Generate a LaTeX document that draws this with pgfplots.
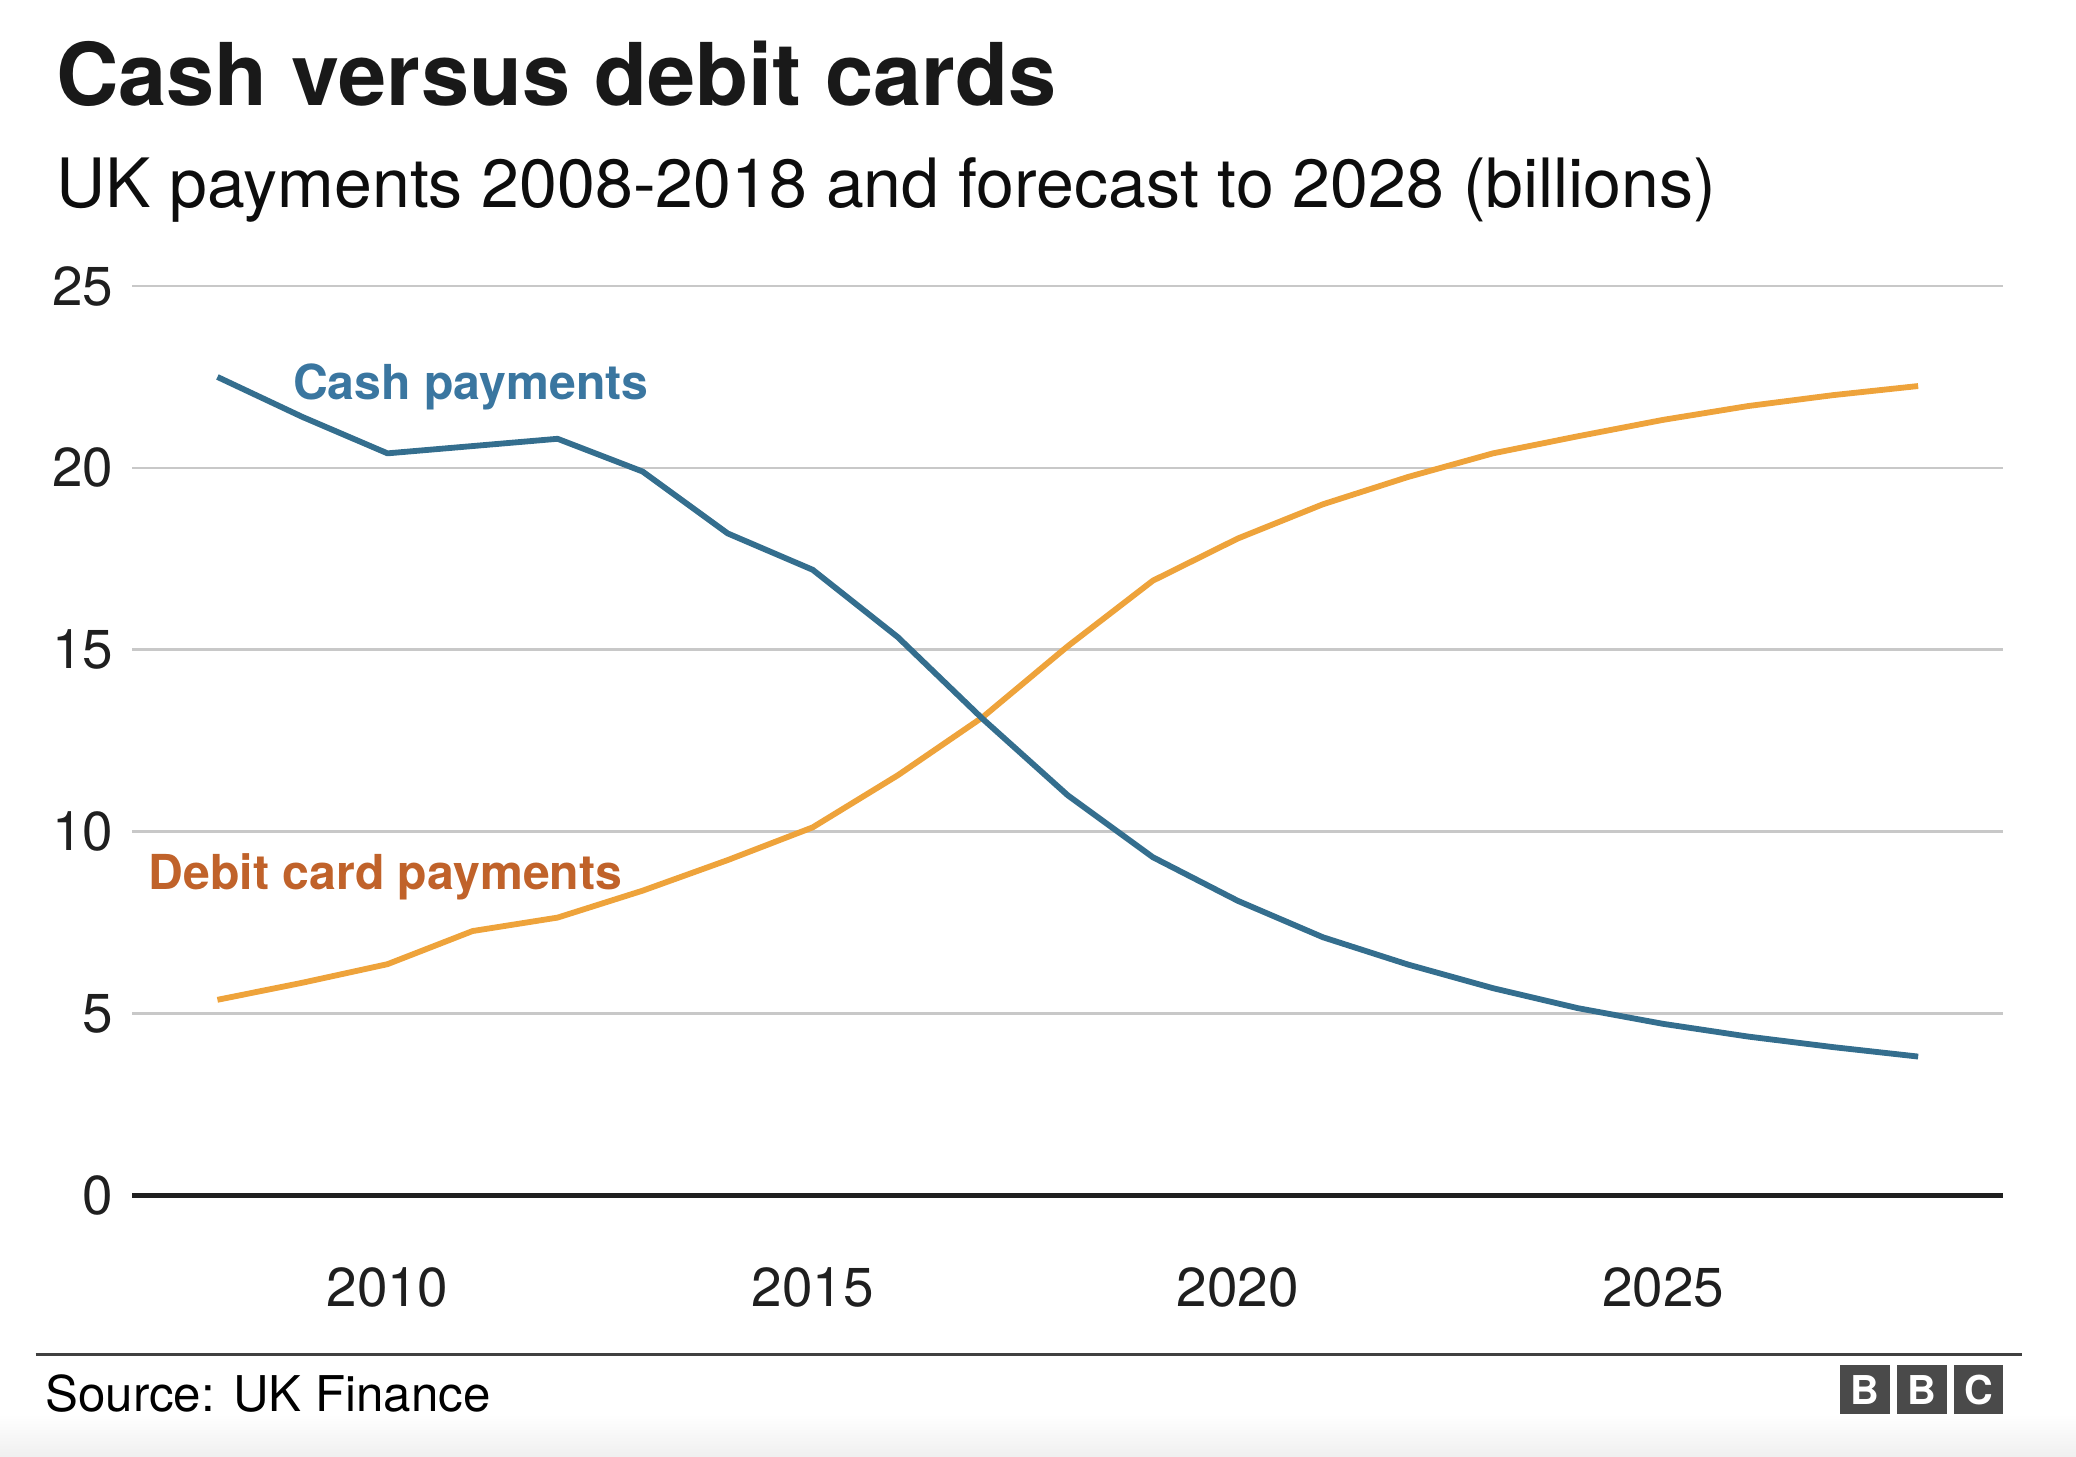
\documentclass[border=0pt]{standalone}
\usepackage{pgfplots}
\pgfplotsset{compat=1.18}
\usepackage{fontspec}
\setmainfont{TeX Gyre Heros}
\definecolor{cashline}{HTML}{346E8E}
\definecolor{cashtext}{HTML}{3A76A0}
\definecolor{debitline}{HTML}{EEA33B}
\definecolor{debittext}{HTML}{C0622A}
\definecolor{gridc}{HTML}{C8C8C8}
\definecolor{bbcgray}{HTML}{4A4A4A}
\begin{document}
\begin{tikzpicture}
\path[use as bounding box] (0pt,0pt) rectangle (784pt,550pt);
\shade[bottom color=black!6, top color=white, draw=none] (0pt,0pt) rectangle (784pt,16pt);
\node[anchor=base west, inner sep=0pt, text=black!90] at (21pt,510pt) {\fontsize{32.7}{38}\selectfont\bfseries Cash versus debit cards};
\node[anchor=base west, inner sep=0pt, text=black!95] at (21pt,471.5pt) {\fontsize{25.7}{30}\selectfont UK payments 2008-2018 and forecast to 2028 (billions)};
\begin{axis}[
  at={(50pt,98.5pt)}, anchor=south west,
  scale only axis, width=706.5pt, height=343.5pt,
  xmin=2007, xmax=2029, ymin=0, ymax=25,
  axis line style={draw=none},
  major tick length=0pt,
  xtick={2010,2015,2020,2025},
  xticklabels={2010,2015,2020,2025},
  ytick={0,5,10,15,20,25},
  ymajorgrids,
  grid style={gridc, line width=1pt},
  /pgf/number format/assume math mode=true,
  ticklabel style={font=\fontsize{20.7}{24}\selectfont, text=black!88},
  yticklabel style={anchor=east, inner sep=0pt, xshift=-7pt},
  xticklabel style={anchor=north, inner sep=0pt, yshift=-27pt},
  clip=false,
]
\draw[black!88, line width=1.75pt] (axis cs:2007,0) -- (axis cs:2029,0);
\addplot[debitline, line width=2.2pt, line join=round, line cap=butt] coordinates {
(2008,5.38) (2009,5.85) (2010,6.36) (2011,7.27) (2012,7.64) (2013,8.38) (2014,9.22)
(2015,10.12) (2016,11.55) (2017,13.15) (2018,15.1) (2019,16.9) (2020,18.06) (2021,19.0)
(2022,19.75) (2023,20.4) (2024,20.87) (2025,21.32) (2026,21.7) (2027,22.0) (2028,22.25)
};
\addplot[cashline, line width=2.2pt, line join=round, line cap=butt] coordinates {
(2008,22.5) (2009,21.4) (2010,20.4) (2011,20.6) (2012,20.8) (2013,19.9) (2014,18.2)
(2015,17.2) (2016,15.35) (2017,13.1) (2018,11.0) (2019,9.3) (2020,8.1) (2021,7.1)
(2022,6.35) (2023,5.7) (2024,5.15) (2025,4.72) (2026,4.37) (2027,4.08) (2028,3.82)
};
\end{axis}
\node[anchor=base west, inner sep=0pt, text=cashtext] at (110.5pt,399pt) {\fontsize{18.2}{22}\selectfont\bfseries Cash payments};
\node[anchor=base west, inner sep=0pt, text=debittext] at (56pt,214pt) {\fontsize{18.2}{22}\selectfont\bfseries Debit card payments};
\draw[black!75, line width=1.2pt] (13.5pt,38.5pt) -- (763.5pt,38.5pt);
\node[anchor=base west, inner sep=0pt, text=black] at (17pt,17pt) {\fontsize{18.6}{22}\selectfont Source: UK Finance};
\foreach \xx/\ll in {695/B,716.5/B,738/C}{
  \fill[bbcgray] (\xx pt,16pt) rectangle ++(18.6pt,18.5pt);
  \node[text=white, inner sep=0pt] at (\xx pt+9.3pt,25.25pt) {\fontsize{15}{15}\selectfont\bfseries \ll};
}
\end{tikzpicture}
\end{document}
